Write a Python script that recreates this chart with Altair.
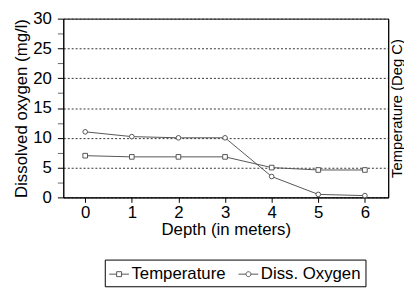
import altair as alt
import pandas as pd

depth = [0, 1, 2, 3, 4, 5, 6]
temperature = [7.0, 6.8, 6.8, 6.8, 5.0, 4.6, 4.6]
diss_oxygen = [11.0, 10.2, 10.0, 10.0, 3.5, 0.5, 0.3]
series_names = ["Temperature", "Diss. Oxygen"]
y_ticks = [0, 2.5, 5, 7.5, 10, 12.5, 15, 17.5, 20, 22.5, 25, 27.5, 30]

rows = []
for d, t in zip(depth, temperature):
    rows.append({"depth": d, "value": t, "series": series_names[0]})
for d, o in zip(depth, diss_oxygen):
    rows.append({"depth": d, "value": o, "series": series_names[1]})
df = pd.DataFrame(rows)

FONT = "Liberation Sans"
GRAY = "#555555"
FS = 17
MAJOR = "datum.value % 5 === 0"

yscale = alt.Scale(domain=[0, 30], nice=False)
x = alt.X("depth:Q", scale=alt.Scale(domain=[-0.47, 6.5], nice=False, zero=False),
          axis=alt.Axis(values=depth, title="Depth (in meters)", grid=False,
                        labelFontSize=FS, titleFontSize=FS, titleFontWeight="normal",
                        tickSize=5, domainColor="black", tickColor="black",
                        labelColor="black", titleColor="black",
                        labelPadding=2, titlePadding=2))
y = alt.Y("value:Q", scale=yscale,
          axis=alt.Axis(orient="left", values=y_ticks, title="Dissolved oxygen (mg/l)",
                        labelExpr=f"{MAJOR} ? datum.label : ''",
                        grid=True, gridDash=[2, 2], gridColor="#333333", gridWidth=1,
                        gridOpacity={"condition": {"test": MAJOR, "value": 1}, "value": 0},
                        labelFontSize=FS, titleFontSize=FS, titleFontWeight="normal",
                        tickSize=6,
                        tickWidth={"condition": {"test": MAJOR, "value": 1}, "value": 0.6},
                        labelPadding=6, titlePadding=2,
                        domainColor="black", tickColor="black", labelColor="black",
                        titleColor="black"))

lines = alt.Chart(df).mark_line(strokeWidth=1, color=GRAY).encode(x=x, y=y, detail="series:N")
points = alt.Chart(df).mark_point(size=22, filled=True, fill="white", stroke=GRAY,
                                  strokeWidth=1, opacity=1).encode(
    x=x, y=y,
    shape=alt.Shape("series:N", scale=alt.Scale(domain=series_names, range=["square", "circle"]),
                    legend=None))
data_layer = alt.layer(lines, points)

sq_path = "M-1,0H-0.25M0.25,0H1M-0.25,-0.25H0.25V0.25H-0.25Z"
ci_path = "M-1,0H-0.25M0.25,0H1M-0.25,0A0.25,0.25,0,1,0,0.25,0A0.25,0.25,0,1,0,-0.25,0Z"

legend_layer = alt.Chart(df).transform_filter("false").mark_point(
    filled=False, color=GRAY, strokeWidth=1, size=400, opacity=1
).encode(
    x=x,
    y=alt.Y("value:Q", scale=yscale,
            axis=alt.Axis(orient="right", title="Temperature (Deg C)", labels=False,
                          ticks=False, grid=False, titleFontSize=15, titleFontWeight="normal",
                          titleColor="black", domainColor="black", titlePadding=1,
                          titleAngle=270, titleBaseline="top")),
    shape=alt.Shape("series:N", scale=alt.Scale(domain=series_names, range=[sq_path, ci_path]),
                    legend=alt.Legend(title=None, orient="none", direction="horizontal",
                                      legendX=42, legendY=244,
                                      labelFontSize=FS, labelFont=FONT, labelColor="black",
                                      strokeColor="black", fillColor="white", padding=4,
                                      symbolSize=400, symbolStrokeWidth=1,
                                      symbolStrokeColor=GRAY, symbolOpacity=1,
                                      labelOffset=2, columnPadding=10)),
)

chart = alt.layer(data_layer, legend_layer).resolve_scale(
    y="independent", shape="independent"
).properties(
    width=329, height=181, padding={"left": 5, "right": 0, "top": 0, "bottom": 0}
).configure(font=FONT).configure_view(stroke="black", strokeWidth=1)

chart.save("out.html", embed_options={"renderer": "svg", "actions": False})
